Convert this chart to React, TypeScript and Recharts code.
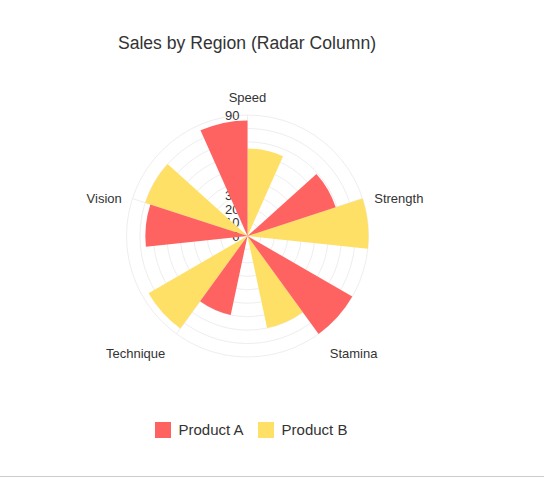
import React from "react";
import {
  RadialBarChart,
  RadialBar,
  PolarGrid,
  PolarAngleAxis,
  PolarRadiusAxis,
  Legend,
} from "recharts";

const categories = ["Speed", "Strength", "Stamina", "Technique", "Vision"];
const productA = [86, 69, 90, 60, 76];
const productB = [65, 90, 70, 85, 80];
const radiusTicks = [0, 10, 20, 30, 40, 50, 60, 70, 80, 90];

const series = [
  { key: "a", name: "Product A", color: "#ff6361" },
  { key: "b", name: "Product B", color: "#ffe066" },
];

const data = categories.map((name, i) => ({ name, a: productA[i], b: productB[i] }));

const W = 544;
const H = 476;
const CX = 247.5;
const CY = 236;
const OUTER = 121;
const LABEL_R = 128;
const STEP = 360 / categories.length;
// band of the first category is centred on 12 o'clock, going clockwise
const START = 90 - STEP / 2;
const END = START - 360;
const spokes = categories.map((_, i) => 90 - STEP * i);

const FONT = "'Liberation Sans', Arial, sans-serif";

function AngleTick(props: any) {
  const { payload } = props;
  const i = categories.indexOf(payload.value);
  const rad = (STEP * i * Math.PI) / 180;
  const ux = Math.sin(rad);
  const uy = -Math.cos(rad);
  const px = CX + ux * LABEL_R;
  const py = CY + uy * LABEL_R;
  const low = uy > 0.5;
  let anchor = "middle";
  let dx = 0;
  if (ux > 0.1) {
    anchor = "start";
    dx = low ? 7 : 5;
  } else if (ux < -0.1) {
    anchor = "end";
    dx = low ? -7 : -4;
  }
  let dy = 7;
  if (uy < -0.5) dy = -6;
  else if (low) dy = 18;
  return (
    <text x={px + dx} y={py + dy} textAnchor={anchor} fontSize={13} fill="#333">
      {payload.value}
    </text>
  );
}

function RadiusTick(props: any) {
  const { x, y, payload } = props;
  return (
    <text x={x - 8} y={y} dy="0.35em" textAnchor="end" fontSize={13} fill="#333">
      {payload.value}
    </text>
  );
}

function LegendContent() {
  return (
    <div style={{ display: "flex", justifyContent: "center", gap: 14 }}>
      {series.map((s) => (
        <div key={s.key} style={{ display: "flex", alignItems: "center" }}>
          <span style={{ width: 16, height: 16, background: s.color, marginRight: 8 }} />
          <span style={{ fontSize: 15, color: "#333" }}>{s.name}</span>
        </div>
      ))}
    </div>
  );
}

const chartProps = {
  width: W,
  height: H,
  data,
  layout: "centric" as const,
  cx: CX,
  cy: CY,
  innerRadius: 0,
  outerRadius: OUTER,
  startAngle: START,
  endAngle: END,
  barCategoryGap: "16.667%",
  barGap: 0,
  style: { fontFamily: FONT },
};

// within a band the library lays bars out counter-clockwise, so B goes first to put A on the left
const drawOrder = [series[1], series[0]];

export default function App() {
  return (
    <div
      style={{
        position: "absolute",
        left: 0,
        top: 0,
        width: W,
        height: H,
        borderBottom: "1px solid #ccc",
        fontFamily: FONT,
        background: "#fff",
      }}
    >
      <div
        style={{
          position: "absolute",
          top: 33,
          left: 0,
          width: 494,
          textAlign: "center",
          fontSize: 17.6,
          color: "#333",
        }}
      >
        Sales by Region (Radar Column)
      </div>

      {/* back layer: grid rings and the value labels, drawn under the wedges */}
      <div style={{ position: "absolute", left: 0, top: 0 }}>
        <RadialBarChart {...chartProps}>
          <PolarGrid gridType="circle" stroke="#eee" polarAngles={spokes} />
          <PolarAngleAxis type="category" dataKey="name" axisLine={false} tickLine={false} tick={false} />
          <PolarRadiusAxis
            type="number"
            angle={90}
            domain={[0, 90]}
            ticks={radiusTicks}
            axisLine={false}
            tickLine={false}
            tick={<RadiusTick />}
          />
          {drawOrder.map((s) => (
            <RadialBar
              key={s.key}
              dataKey={s.key}
              fill="none"
              stroke="none"
              legendType="none"
              isAnimationActive={false}
            />
          ))}
        </RadialBarChart>
      </div>

      {/* front layer: wedges, category labels, legend */}
      <div style={{ position: "absolute", left: 0, top: 0 }}>
        <RadialBarChart {...chartProps}>
          <PolarAngleAxis type="category" dataKey="name" axisLine={false} tickLine={false} tick={<AngleTick />} />
          <PolarRadiusAxis type="number" domain={[0, 90]} ticks={radiusTicks} axisLine={false} tickLine={false} tick={false} />
          {drawOrder.map((s) => (
            <RadialBar
              key={s.key}
              dataKey={s.key}
              name={s.name}
              fill={s.color}
              stroke="none"
              legendType="square"
              isAnimationActive={false}
            />
          ))}
          <Legend content={<LegendContent />} wrapperStyle={{ top: 421, left: 0, width: 502 }} />
        </RadialBarChart>
      </div>
    </div>
  );
}
